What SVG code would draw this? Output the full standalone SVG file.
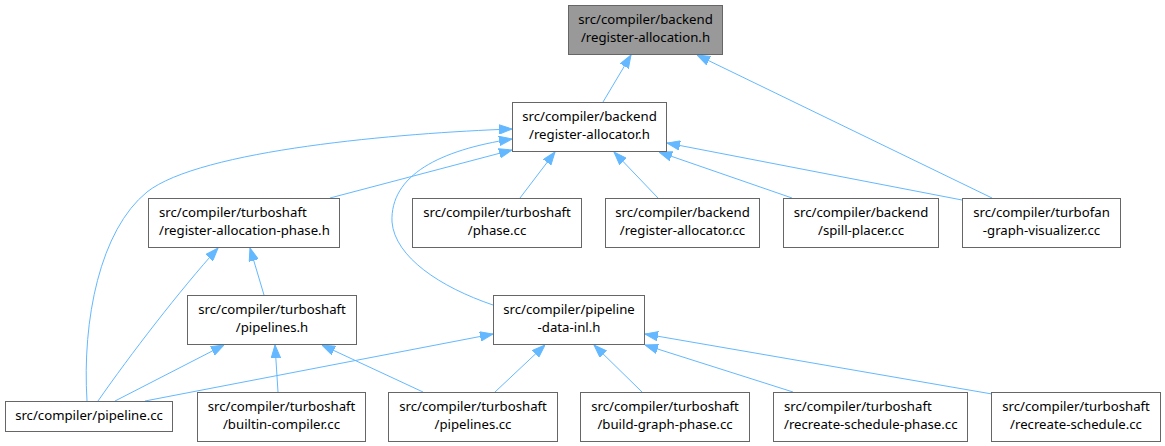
<svg xmlns="http://www.w3.org/2000/svg" width="1165" height="446" viewBox="0 0 1165 446">
<style>
.n rect{fill:#fff;stroke:#666;stroke-width:1}
.n.root rect{fill:#999}
.n text{font-family:"Noto Sans","Open Sans","DejaVu Sans",sans-serif;font-size:13.2px;fill:#000;text-anchor:middle}
.n text.l{text-anchor:start}
.e path{fill:none;stroke:#63b8ff;stroke-width:1;marker-end:url(#ah)}
</style>
<defs>
<marker id="ah" markerUnits="userSpaceOnUse" markerWidth="13" markerHeight="10" viewBox="0 0 13 10" refX="13" refY="5" orient="auto">
<path d="M0,0.3 L13,5 L0,9.7 z" fill="#63b8ff" stroke="#63b8ff" stroke-width="1"/>
</marker>
</defs>
<rect width="1165" height="446" fill="#fff"/>
<g id="edges" class="e">
<path d="M603,102 L631,55"/>
<path d="M992,198 L697,55"/>
<path d="M87,401 C82,320 100,230 147,192 C200,150 400,133 512,129"/>
<path d="M330,198 L512,150"/>
<path d="M493,305 C440,287 395,257 392,222 C390,175 440,150 512,139"/>
<path d="M520,198 L555,152"/>
<path d="M658,198 L614,152"/>
<path d="M792,198 L659,152"/>
<path d="M962,200 L667,143"/>
<path d="M98,401 C130,355 180,290 218,248"/>
<path d="M264,295 L250,248"/>
<path d="M115,401 L224,345"/>
<path d="M278,392 L275,345"/>
<path d="M423,392 L322,345"/>
<path d="M145,401 L493,334"/>
<path d="M495,392 L545,345"/>
<path d="M642,392 L594,345"/>
<path d="M793,392 L645,345"/>
<path d="M992,394 L645,334"/>
</g>
<g id="node1" class="n root"><rect x="568.5" y="5.5" width="154" height="49"/><text x="645.5" y="24">src/compiler/backend</text><text x="645.5" y="42">/register-allocation.h</text></g>
<g id="node2" class="n"><rect x="512.5" y="102.5" width="154" height="49"/><text x="589.5" y="121">src/compiler/backend</text><text x="589.5" y="139">/register-allocator.h</text></g>
<g id="node3" class="n"><rect x="148.5" y="198.5" width="191" height="49"/><text class="l" x="159" y="217">src/compiler/turboshaft</text><text class="l" x="159" y="235">/register-allocation-phase.h</text></g>
<g id="node4" class="n"><rect x="412.5" y="198.5" width="169" height="49"/><text x="497" y="217">src/compiler/turboshaft</text><text x="497" y="235">/phase.cc</text></g>
<g id="node5" class="n"><rect x="605.5" y="198.5" width="154" height="49"/><text x="682.5" y="217">src/compiler/backend</text><text x="682.5" y="235">/register-allocator.cc</text></g>
<g id="node6" class="n"><rect x="783.5" y="198.5" width="155" height="49"/><text x="861" y="217">src/compiler/backend</text><text x="861" y="235">/spill-placer.cc</text></g>
<g id="node7" class="n"><rect x="962.5" y="198.5" width="158" height="49"/><text x="1041.5" y="217">src/compiler/turbofan</text><text x="1041.5" y="235">-graph-visualizer.cc</text></g>
<g id="node8" class="n"><rect x="187.5" y="295.5" width="169" height="49"/><text x="272" y="314">src/compiler/turboshaft</text><text x="272" y="332">/pipelines.h</text></g>
<g id="node9" class="n"><rect x="493.5" y="295.5" width="151" height="49"/><text x="569" y="314">src/compiler/pipeline</text><text x="569" y="332">-data-inl.h</text></g>
<g id="node10" class="n"><rect x="5.5" y="401.5" width="167" height="30"/><text x="89" y="420">src/compiler/pipeline.cc</text></g>
<g id="node11" class="n"><rect x="197.5" y="392.5" width="168" height="49"/><text x="281.5" y="411">src/compiler/turboshaft</text><text x="281.5" y="429">/builtin-compiler.cc</text></g>
<g id="node12" class="n"><rect x="388.5" y="392.5" width="169" height="49"/><text x="473" y="411">src/compiler/turboshaft</text><text x="473" y="429">/pipelines.cc</text></g>
<g id="node13" class="n"><rect x="580.5" y="392.5" width="169" height="49"/><text x="665" y="411">src/compiler/turboshaft</text><text x="665" y="429">/build-graph-phase.cc</text></g>
<g id="node14" class="n"><rect x="773.5" y="392.5" width="194" height="49"/><text class="l" x="784" y="411">src/compiler/turboshaft</text><text class="l" x="784" y="429">/recreate-schedule-phase.cc</text></g>
<g id="node15" class="n"><rect x="991.5" y="392.5" width="169" height="49"/><text x="1076" y="411">src/compiler/turboshaft</text><text x="1076" y="429">/recreate-schedule.cc</text></g>
</svg>
